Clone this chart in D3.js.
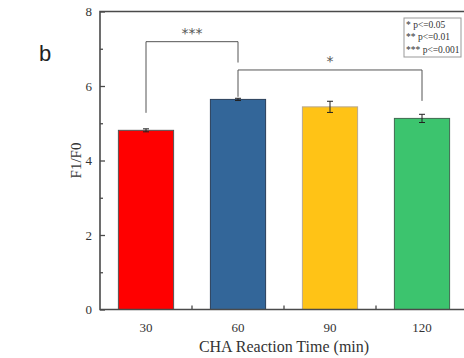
<!DOCTYPE html>
<html>
<head>
<meta charset="utf-8">
<script src="https://cdn.jsdelivr.net/npm/d3@7"></script>
<style>
  body { margin: 0; background: #fff; }
  svg { display: block; }
</style>
</head>
<body>
<svg id="chart"></svg>
<script>
// chart values
const categories = ["30", "60", "90", "120"];
const means = [4.81, 5.64, 5.44, 5.13];
const errors = [0.04, 0.03, 0.15, 0.11];
const barColors = ["#ff0000", "#336699", "#ffc316", "#3cc46e"];
const barStrokes = ["#555555", "#2a3f5a", "#b8a890", "#3f6a50"];
const yTicks = [0, 2, 4, 6, 8];
const yMinorTicks = [1, 3, 5, 7];
// significance brackets: from / to category, top height, leg bottoms, label
const brackets = [
    {from: "30", to: "60", top: 7.19, leftEnd: 5.28, rightEnd: 6.63, label: "***"},
    {from: "60", to: "120", top: 6.43, leftEnd: 5.71, rightEnd: 5.60, label: "*"}
];
const legendLines = ["* p<=0.05", "** p<=0.01", "*** p<=0.001"];

const width = 464, height = 358;
const margin = {top: 11.5, right: -4, bottom: 48.5, left: 100};
const serif = "'Liberation Serif', 'DejaVu Serif', serif";

const svg = d3.select("#chart")
    .attr("width", width)
    .attr("height", height);

const x = d3.scaleBand()
    .domain(categories)
    .range([margin.left, width - margin.right])
    .paddingInner(0.4)
    .paddingOuter(0.2);

const y = d3.scaleLinear()
    .domain([0, 8])
    .range([height - margin.bottom, margin.top]);

const axisColor = "#4a4a4a";

// bars
svg.selectAll("rect.bar")
    .data(means)
    .enter()
    .append("rect")
    .attr("class", "bar")
    .attr("x", (d, i) => x(categories[i]))
    .attr("y", d => y(d))
    .attr("width", x.bandwidth())
    .attr("height", d => y(0) - y(d))
    .attr("fill", (d, i) => barColors[i])
    .attr("stroke", (d, i) => barStrokes[i])
    .attr("stroke-width", 1);

// error bars
const errG = svg.append("g").attr("stroke", "#222").attr("stroke-width", 1);
means.forEach((m, i) => {
    const cx = x(categories[i]) + x.bandwidth() / 2;
    errG.append("line").attr("x1", cx).attr("x2", cx).attr("y1", y(m - errors[i])).attr("y2", y(m + errors[i]));
    errG.append("line").attr("x1", cx - 3).attr("x2", cx + 3).attr("y1", y(m + errors[i])).attr("y2", y(m + errors[i]));
    errG.append("line").attr("x1", cx - 3).attr("x2", cx + 3).attr("y1", y(m - errors[i])).attr("y2", y(m - errors[i]));
});

// y axis, ticks inward
const yAxis = svg.append("g")
    .attr("transform", `translate(${margin.left},0)`)
    .call(d3.axisRight(y).tickValues(yTicks).tickSize(5).tickFormat(""));
yAxis.select(".domain").remove();
yAxis.selectAll("line").attr("stroke", axisColor).attr("stroke-width", 1.3);
svg.append("g")
    .attr("transform", `translate(${margin.left},0)`)
    .call(d3.axisRight(y).tickValues(yMinorTicks).tickSize(3).tickFormat(""))
    .call(g => g.select(".domain").remove())
    .selectAll("line").attr("stroke", axisColor).attr("stroke-width", 1.3);

svg.selectAll("text.ytick")
    .data(yTicks)
    .enter()
    .append("text")
    .attr("class", "ytick")
    .attr("x", margin.left - 8)
    .attr("y", d => y(d) + 4.5)
    .attr("text-anchor", "end")
    .attr("font-family", serif)
    .attr("font-size", 13)
    .attr("fill", "#333")
    .text(d => d);

// x axis minor ticks between categories, pointing up
const between = categories.slice(0, -1).map((c, i) => (x(c) + x.bandwidth() + x(categories[i + 1])) / 2);
svg.selectAll("line.xminor")
    .data(between)
    .enter()
    .append("line")
    .attr("x1", d => d).attr("x2", d => d)
    .attr("y1", y(0)).attr("y2", y(0) - 4)
    .attr("stroke", axisColor).attr("stroke-width", 1.3);

svg.selectAll("text.xtick")
    .data(categories)
    .enter()
    .append("text")
    .attr("class", "xtick")
    .attr("x", d => x(d) + x.bandwidth() / 2)
    .attr("y", y(0) + 22)
    .attr("text-anchor", "middle")
    .attr("font-family", serif)
    .attr("font-size", 13)
    .attr("fill", "#333")
    .text(d => d);

// frame lines: left, bottom, top
const x0 = margin.left, x1 = width - margin.right;
svg.append("path")
    .attr("d", `M${x1},${y(8)}H${x0}V${y(0)}H${x1}`)
    .attr("fill", "none")
    .attr("stroke", axisColor)
    .attr("stroke-width", 1.6);

// significance brackets
brackets.forEach(b => {
    const bx1 = x(b.from) + x.bandwidth() / 2;
    const bx2 = x(b.to) + x.bandwidth() / 2;
    svg.append("path")
        .attr("d", `M${bx1},${y(b.leftEnd)}V${y(b.top)}H${bx2}V${y(b.rightEnd)}`)
        .attr("fill", "none")
        .attr("stroke", "#555")
        .attr("stroke-width", 1);
    svg.append("text")
        .attr("x", (bx1 + bx2) / 2)
        .attr("y", y(b.top) - 4)
        .attr("text-anchor", "middle")
        .attr("font-family", "'DejaVu Sans', sans-serif")
        .attr("font-size", 14)
        .attr("fill", "#555")
        .text(b.label);
});

// legend box
const lg = svg.append("g").attr("transform", "translate(404,18)");
lg.append("rect")
    .attr("width", 57).attr("height", 39)
    .attr("fill", "#fff").attr("stroke", "#999").attr("stroke-width", 1);
lg.selectAll("text")
    .data(legendLines)
    .enter()
    .append("text")
    .attr("x", 2)
    .attr("y", (d, i) => 10 + i * 12.3)
    .attr("font-family", serif)
    .attr("font-size", 9.5)
    .attr("fill", "#333")
    .text(d => d);

// axis titles
svg.append("text")
    .attr("transform", `translate(81,${y(4)}) rotate(-90)`)
    .attr("text-anchor", "middle")
    .attr("font-family", serif)
    .attr("font-size", 15)
    .attr("fill", "#333")
    .text("F1/F0");

svg.append("text")
    .attr("x", (x0 + x1) / 2)
    .attr("y", 352)
    .attr("text-anchor", "middle")
    .attr("font-family", serif)
    .attr("font-size", 16)
    .attr("fill", "#333")
    .text("CHA Reaction Time (min)");

// panel letter
svg.append("text")
    .attr("x", 39)
    .attr("y", 61)
    .attr("font-family", "'Liberation Sans', Arial, sans-serif")
    .attr("font-size", 22)
    .attr("fill", "#222")
    .text("b");
</script>
</body>
</html>
